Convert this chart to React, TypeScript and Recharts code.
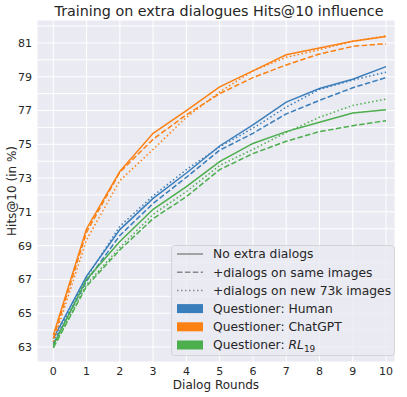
import React from 'react';
import { LineChart, Line, XAxis, YAxis, CartesianGrid, Customized } from 'recharts';

const rounds = [0, 1, 2, 3, 4, 5, 6, 7, 8, 9, 10];

const humanBase = [63.5, 67.2, 69.95, 71.8, 73.3, 74.9, 76.15, 77.5, 78.3, 78.85, 79.6];
const humanSame = [63.2, 66.9, 69.6, 71.5, 73.05, 74.65, 75.65, 76.8, 77.6, 78.35, 78.95];
const humanNew = [63.3, 67.1, 70.15, 71.95, 73.5, 74.85, 75.95, 77.2, 78.25, 78.8, 79.27];

const gptBase = [63.7, 70.0, 73.4, 75.65, 77.0, 78.4, 79.35, 80.3, 80.7, 81.1, 81.38];
const gptSame = [63.5, 69.8, 73.35, 75.3, 76.75, 78.0, 78.95, 79.7, 80.35, 80.8, 80.96];
const gptNew = [63.3, 69.35, 72.85, 74.7, 76.6, 78.1, 79.35, 80.15, 80.6, 81.1, 81.42];

const rlBase = [63.1, 67.0, 69.25, 71.15, 72.5, 73.97, 75.05, 75.75, 76.3, 76.85, 77.05];
const rlSame = [62.95, 66.6, 68.75, 70.6, 71.9, 73.5, 74.45, 75.18, 75.75, 76.1, 76.4];
const rlNew = [63.0, 66.7, 68.9, 70.85, 72.2, 73.75, 74.7, 75.7, 76.6, 77.3, 77.68];

const yTicks = [63, 64, 65, 66, 67, 68, 69, 70, 71, 72, 73, 74, 75, 76, 77, 78, 79, 80, 81, 82];
const yLabelTicks = [63, 65, 67, 69, 71, 73, 75, 77, 79, 81];

const title = 'Training on extra dialogues Hits@10 influence';
const xLabel = 'Dialog Rounds';
const yLabel = 'Hits@10 (in %)';
const styleLabels = ['No extra dialogs', '+dialogs on same images', '+dialogs on new 73k images'];
const questionerLabels = ['Questioner: Human', 'Questioner: ChatGPT'];

const data = rounds.map((r, i) => ({
  round: r,
  hb: humanBase[i], hs: humanSame[i], hn: humanNew[i],
  gb: gptBase[i], gs: gptSame[i], gn: gptNew[i],
  rb: rlBase[i], rs: rlSame[i], rn: rlNew[i],
}));

const BLUE = '#3a7ebb';
const ORANGE = '#fd8012';
const GREEN = '#4cae4c';
const FONT = 'DejaVu Sans, sans-serif';
const TXT = '#262626';
const DASH = '5.5 2.4';
const DOT = '1.5 2.5';

const Overlay = () => {
  const rowY = [254, 272.3, 290.6, 308.6, 326.8, 345];
  const lx = 177;
  const tx = 213;
  return (
    <g fontFamily={FONT}>
      <text x={219} y={16} textAnchor="middle" fontSize={14.3} fill={TXT}>{title}</text>
      <text x={216} y={389} textAnchor="middle" fontSize={12} fill={TXT}>{xLabel}</text>
      <text x={16} y={191} textAnchor="middle" fontSize={12} fill={TXT} transform="rotate(-90 16 191)">{yLabel}</text>
      <rect x={171.5} y={245.5} width={223} height={110} rx={3} fill="#EAEAF2" fillOpacity={0.8} stroke="#d3d3d8" />
      <line x1={lx} x2={lx + 26} y1={rowY[0]} y2={rowY[0]} stroke="#8a8a8a" strokeWidth={1.5} />
      <line x1={lx} x2={lx + 26} y1={rowY[1]} y2={rowY[1]} stroke="#8a8a8a" strokeWidth={1.5} strokeDasharray={DASH} />
      <line x1={lx} x2={lx + 26} y1={rowY[2]} y2={rowY[2]} stroke="#8a8a8a" strokeWidth={1.5} strokeDasharray={DOT} />
      <rect x={lx} y={rowY[3] - 4.5} width={26} height={9} fill={BLUE} />
      <rect x={lx} y={rowY[4] - 4.5} width={26} height={9} fill={ORANGE} />
      <rect x={lx} y={rowY[5] - 4.5} width={26} height={9} fill={GREEN} />
      {styleLabels.map((s, i) => (
        <text key={s} x={tx} y={rowY[i]} dy="0.36em" fontSize={12.3} fill={TXT}>{s}</text>
      ))}
      {questionerLabels.map((s, i) => (
        <text key={s} x={tx} y={rowY[i + 3]} dy="0.36em" fontSize={12.3} fill={TXT}>{s}</text>
      ))}
      <text x={tx} y={rowY[5]} dy="0.36em" fontSize={12.3} fill={TXT}>
        Questioner: <tspan fontStyle="italic">RL</tspan><tspan fontSize={9} dy={3}>19</tspan>
      </text>
    </g>
  );
};

export default function App() {
  return (
    <div style={{ position: 'absolute', left: 0, top: 0, width: 407, height: 397, background: '#fff' }}>
      <LineChart width={407} height={397} data={data} margin={{ top: 20, right: 12, left: 0, bottom: 0 }}>
        <CartesianGrid fill="#EAEAF2" stroke="#ffffff" strokeWidth={1} />
        <XAxis
          dataKey="round"
          type="number"
          domain={[-0.49, 10.27]}
          allowDataOverflow
          ticks={rounds}
          interval={0}
          height={35}
          tickLine={false}
          axisLine={false}
          tickSize={0}
          tickMargin={5}
          tick={{ fill: TXT, fontSize: 11, fontFamily: FONT }}
        />
        <YAxis
          type="number"
          domain={[62.11, 82.36]}
          allowDataOverflow
          ticks={yTicks}
          interval={0}
          width={37}
          tickLine={false}
          axisLine={false}
          tickSize={0}
          tickMargin={5}
          tickFormatter={(v: number) => (yLabelTicks.includes(v) ? String(v) : '')}
          tick={{ fill: TXT, fontSize: 11, fontFamily: FONT }}
        />
        <Line dataKey="hb" stroke={BLUE} strokeWidth={1.5} dot={false} isAnimationActive={false} />
        <Line dataKey="hs" stroke={BLUE} strokeWidth={1.5} strokeDasharray={DASH} dot={false} isAnimationActive={false} />
        <Line dataKey="hn" stroke={BLUE} strokeWidth={1.5} strokeDasharray={DOT} dot={false} isAnimationActive={false} />
        <Line dataKey="gb" stroke={ORANGE} strokeWidth={1.5} dot={false} isAnimationActive={false} />
        <Line dataKey="gs" stroke={ORANGE} strokeWidth={1.5} strokeDasharray={DASH} dot={false} isAnimationActive={false} />
        <Line dataKey="gn" stroke={ORANGE} strokeWidth={1.5} strokeDasharray={DOT} dot={false} isAnimationActive={false} />
        <Line dataKey="rb" stroke={GREEN} strokeWidth={1.5} dot={false} isAnimationActive={false} />
        <Line dataKey="rs" stroke={GREEN} strokeWidth={1.5} strokeDasharray={DASH} dot={false} isAnimationActive={false} />
        <Line dataKey="rn" stroke={GREEN} strokeWidth={1.5} strokeDasharray={DOT} dot={false} isAnimationActive={false} />
        <Customized component={Overlay} />
      </LineChart>
    </div>
  );
}
